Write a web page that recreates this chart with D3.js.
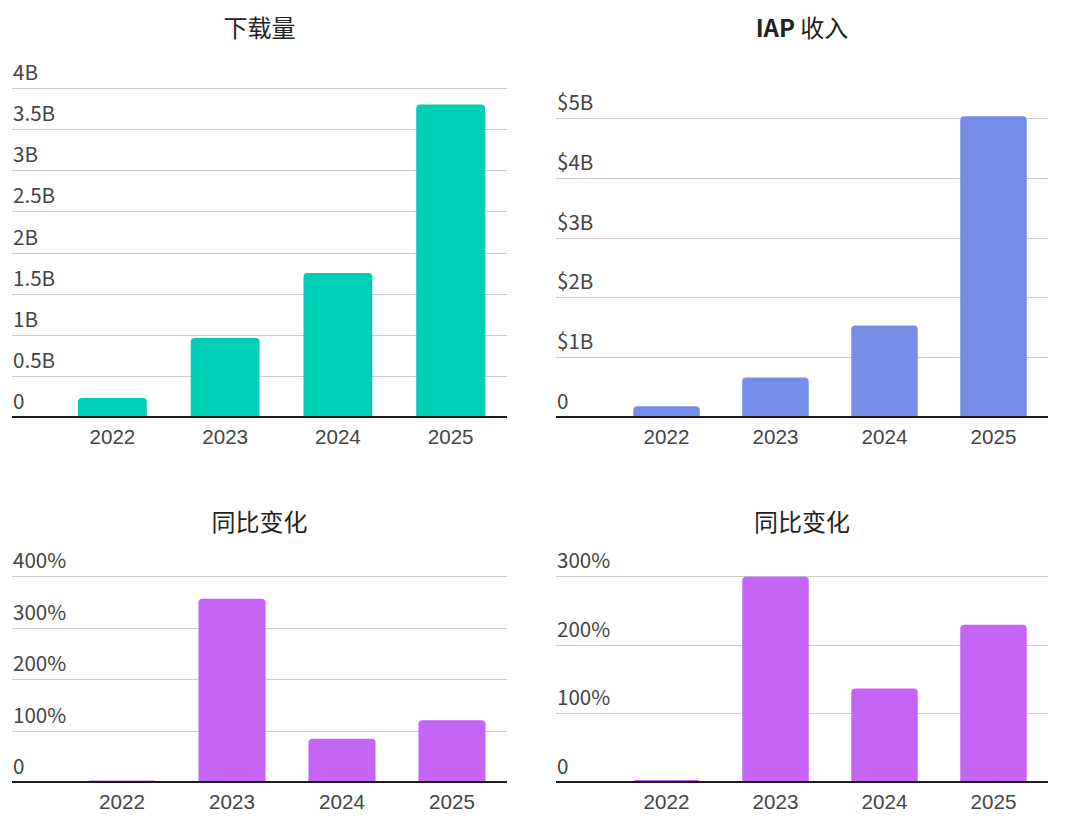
<!DOCTYPE html>
<html>
<head>
<meta charset="utf-8">
<script src="https://cdn.jsdelivr.net/npm/d3@7"></script>
<style>
  body { margin: 0; background: #fff; }
  svg { display: block; font-family: "Noto Sans CJK SC", "Noto Sans", sans-serif; }
  .tick-label { fill: #444; font-size: 20.6px; }
  .title { fill: #222; font-size: 24px; }
</style>
</head>
<body>
<div id="chart"></div>
<script>
// data
const years = ['2022', '2023', '2024', '2025'];
const downloads = [0.23, 0.96, 1.75, 3.80];      // billions
const iapRevenue = [0.18, 0.66, 1.53, 5.03];     // billions USD
const downloadsYoY = [3, 356, 84, 120];          // %
const revenueYoY = [3, 299, 136, 229];           // %

const downloadTicks = [0, 0.5, 1, 1.5, 2, 2.5, 3, 3.5, 4];
const revenueTicks = [0, 1, 2, 3, 4, 5];
const downloadsYoYTicks = [0, 100, 200, 300, 400];
const revenueYoYTicks = [0, 100, 200, 300];

const width = 1065, height = 819;

const svg = d3.select('#chart')
  .append('svg')
  .attr('width', width)
  .attr('height', height);

// rounded top corners only
function barPath(x, y, w, h, r) {
  r = Math.min(r, h, w / 2);
  return `M${x},${y + h}V${y + r}Q${x},${y} ${x + r},${y}H${x + w - r}Q${x + w},${y} ${x + w},${y + r}V${y + h}Z`;
}

function drawPanel(cfg) {
  const g = svg.append('g');

  const x = d3.scaleBand()
    .domain(years)
    .range([cfg.bandLeft, cfg.right])
    .paddingInner(0.39)
    .paddingOuter(0.195);

  const y = d3.scaleLinear()
    .domain([0, d3.max(cfg.ticks)])
    .range([cfg.bottom, cfg.top]);

  // grid lines
  g.selectAll('.grid')
    .data(cfg.ticks.filter(d => d > 0))
    .enter()
    .append('line')
    .attr('x1', cfg.left)
    .attr('x2', cfg.right)
    .attr('y1', d => Math.round(y(d)) + 0.5)
    .attr('y2', d => Math.round(y(d)) + 0.5)
    .attr('stroke', '#cccccc')
    .attr('stroke-width', 1);

  // y tick labels sit above their grid lines
  g.selectAll('.ylab')
    .data(cfg.ticks)
    .enter()
    .append('text')
    .attr('class', 'tick-label')
    .attr('x', cfg.left + 1)
    .attr('y', d => y(d) - 8)
    .text(cfg.format);

  // bars
  g.selectAll('.bar')
    .data(cfg.values)
    .enter()
    .append('path')
    .attr('fill', cfg.color)
    .attr('d', (d, i) => barPath(x(years[i]), y(d), x.bandwidth(), cfg.bottom - y(d), 4));

  // baseline
  g.append('line')
    .attr('x1', cfg.left)
    .attr('x2', cfg.right)
    .attr('y1', cfg.bottom)
    .attr('y2', cfg.bottom)
    .attr('stroke', '#1c1c1c')
    .attr('stroke-width', 2.2);

  // x labels
  const xAxis = d3.axisBottom(x).tickSize(0).tickPadding(0);
  const ax = g.append('g')
    .attr('transform', `translate(0, ${cfg.bottom})`)
    .call(xAxis);
  ax.select('.domain').remove();
  ax.selectAll('text')
    .attr('class', 'tick-label')
    .attr('fill', null)
    .attr('dy', null)
    .attr('y', 27)
    .style('font-family', null)
    .style('font-size', null);

  // title
  const t = g.append('text')
    .attr('class', 'title')
    .attr('x', (cfg.left + cfg.right) / 2)
    .attr('y', cfg.titleY)
    .attr('text-anchor', 'middle');
  cfg.title.forEach(part => {
    t.append('tspan')
      .attr('font-weight', part.bold ? 700 : 400)
      .text(part.text);
  });
}

const fmtB = d => d === 0 ? '0' : d + 'B';
const fmtUSD = d => d === 0 ? '0' : '$' + d + 'B';
const fmtPct = d => d === 0 ? '0' : d + '%';

drawPanel({
  title: [{ text: '下载量' }], titleY: 37,
  values: downloads, ticks: downloadTicks, format: fmtB, color: '#00cdb5',
  left: 12, right: 507, bandLeft: 56, top: 88, bottom: 417
});
drawPanel({
  title: [{ text: 'IAP', bold: true }, { text: ' 收入' }], titleY: 37,
  values: iapRevenue, ticks: revenueTicks, format: fmtUSD, color: '#748de6',
  left: 556, right: 1048, bandLeft: 612, top: 118, bottom: 417
});
drawPanel({
  title: [{ text: '同比变化' }], titleY: 531,
  values: downloadsYoY, ticks: downloadsYoYTicks, format: fmtPct, color: '#c465f6',
  left: 12, right: 507, bandLeft: 67, top: 576, bottom: 782
});
drawPanel({
  title: [{ text: '同比变化' }], titleY: 531,
  values: revenueYoY, ticks: revenueYoYTicks, format: fmtPct, color: '#c465f6',
  left: 556, right: 1048, bandLeft: 612, top: 576, bottom: 782
});
</script>
</body>
</html>
